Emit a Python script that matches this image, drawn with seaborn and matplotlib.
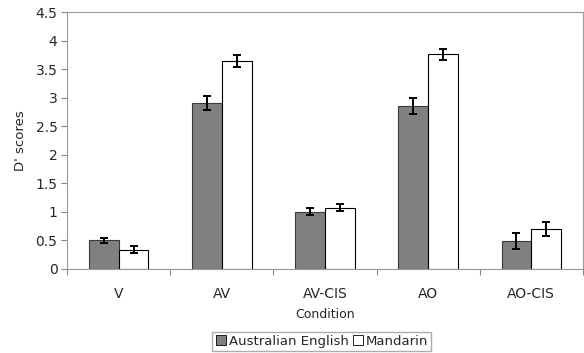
import numpy as np
import pandas as pd
import matplotlib
matplotlib.use("Agg")
import matplotlib.pyplot as plt
import seaborn as sns

conditions = ["V", "AV", "AV-CIS", "AO", "AO-CIS"]
groups = ["Australian English", "Mandarin"]
english_scores = [0.50, 2.90, 1.00, 2.85, 0.48]
mandarin_scores = [0.33, 3.64, 1.07, 3.76, 0.70]
english_err = [0.045, 0.12, 0.06, 0.14, 0.14]
mandarin_err = [0.06, 0.11, 0.06, 0.10, 0.12]
yticks = [0, 0.5, 1, 1.5, 2, 2.5, 3, 3.5, 4, 4.5]
ytick_labels = ["0", "0.5", "1", "1.5", "2", "2.5", "3", "3.5", "4", "4.5"]

df = pd.DataFrame({
    "Condition": conditions * 2,
    "Group": [groups[0]] * len(conditions) + [groups[1]] * len(conditions),
    "Score": english_scores + mandarin_scores,
    "Err": english_err + mandarin_err,
})

sns.set_style("white")
plt.rcParams['font.family'] = ['DejaVu Sans']

fig = plt.figure(figsize=(5.84, 3.53), dpi=100)
ax = fig.add_axes([0.115, 0.239, 0.883, 0.727])

sns.barplot(data=df, x="Condition", y="Score", hue="Group",
            palette={groups[0]: "#808080", groups[1]: "#ffffff"},
            width=0.575, gap=0, errorbar=None, ax=ax, legend=True)

# outline the bars, then hang the error bars off each patch
edge = {groups[0]: "#3a3a3a", groups[1]: "#000000"}
for container, grp in zip(ax.containers, groups):
    sub = df[df["Group"] == grp]
    for bar, val, err in zip(container, sub["Score"], sub["Err"]):
        bar.set_edgecolor(edge[grp])
        bar.set_linewidth(0.8)
        cx = bar.get_x() + bar.get_width() / 2
        ax.errorbar(cx, val, yerr=err, fmt="none", ecolor="black",
                    elinewidth=1.4, capsize=3, capthick=1.4, zorder=5)

ax.set_ylim(0, 4.5)
ax.set_xlim(-0.5, len(conditions) - 0.5)
ax.set_yticks(yticks)
ax.set_yticklabels(ytick_labels, fontsize=10)
ax.set_xticks(range(len(conditions)))
ax.set_xticklabels(conditions, fontsize=10)
ax.tick_params(axis="x", length=0, pad=13)
ax.tick_params(axis="y", length=4, width=0.8, color="#888888", left=True, pad=3)
# category separator ticks
ax.set_xticks(np.arange(-0.5, len(conditions) + 0.5, 1), minor=True)
ax.tick_params(axis="x", which="minor", length=4, width=0.8, color="#888888", bottom=True)

for s in ax.spines.values():
    s.set_color("#999999")
    s.set_linewidth(0.8)
    s.set_visible(True)

ax.set_xlabel("Condition", fontsize=9, labelpad=5)
ax.set_ylabel("D' scores", fontsize=9.5, labelpad=6)

handles, labels = ax.get_legend_handles_labels()
for h in handles:
    h.set_edgecolor("black")
    h.set_linewidth(0.6)
ax.legend(handles, labels, loc="upper center", bbox_to_anchor=(0.494, -0.245),
          ncol=2, fontsize=9.5, frameon=True, fancybox=False, edgecolor="#999999",
          handlelength=0.8, handleheight=0.8, handletextpad=0.2, columnspacing=0.3,
          borderpad=0.25, borderaxespad=0)

fig.savefig("out.png", dpi=100)
